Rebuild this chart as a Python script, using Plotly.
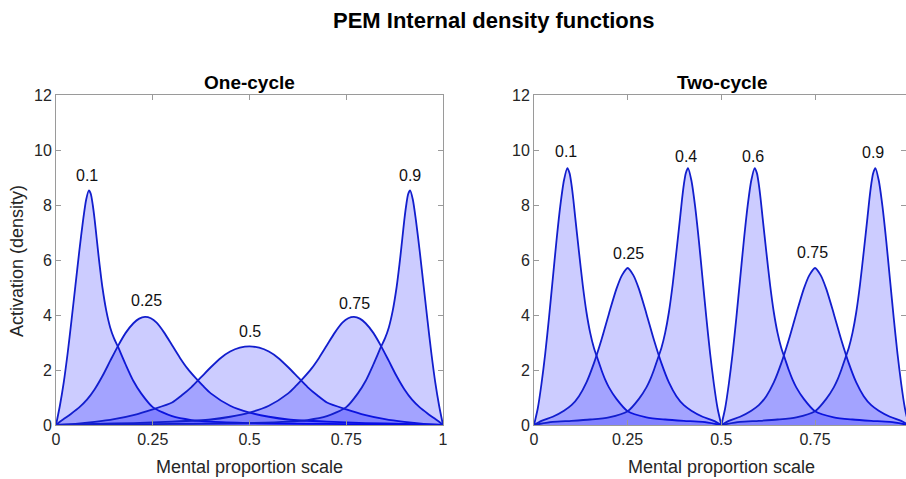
import plotly.graph_objects as go

# ---------------- data ----------------
# One-cycle panel
one_x_01 = [0, 0.01, 0.02, 0.03, 0.04, 0.05, 0.06, 0.07, 0.078, 0.085, 0.09, 0.095, 0.1, 0.105, 0.11, 0.115,
            0.12, 0.13, 0.14, 0.15, 0.16, 0.18, 0.2, 0.22, 0.25, 0.3, 0.35, 0.4, 0.5, 0.6, 0.7, 0.8, 0.9, 1.0]
one_y_01 = [0, 0.7, 1.55, 2.6, 3.8, 5.05, 6.3, 7.45, 8.2, 8.53, 8.4, 8.0, 7.45, 6.8, 6.15, 5.55,
            5.0, 4.15, 3.55, 3.15, 2.85, 2.2, 1.6, 1.15, 0.65, 0.32, 0.18, 0.12, 0.07, 0.05, 0.04, 0.03, 0.02, 0]

one_x_25 = [0, 0.01, 0.02, 0.04, 0.06, 0.08, 0.1, 0.12, 0.14, 0.16, 0.18, 0.2, 0.215, 0.23, 0.245, 0.26,
            0.28, 0.3, 0.32, 0.34, 0.36, 0.38, 0.4, 0.45, 0.5, 0.55, 0.6, 0.7, 0.8, 0.9, 1.0]
one_y_25 = [0, 0.12, 0.22, 0.42, 0.64, 0.92, 1.3, 1.78, 2.33, 2.87, 3.35, 3.7, 3.87, 3.93, 3.88, 3.72,
            3.35, 2.9, 2.45, 2.05, 1.72, 1.42, 1.15, 0.7, 0.45, 0.3, 0.2, 0.12, 0.07, 0.04, 0]

one_x_50 = [0, 0.05, 0.1, 0.15, 0.2, 0.25, 0.3, 0.325, 0.35, 0.375, 0.4, 0.425, 0.45, 0.475, 0.5,
            0.525, 0.55, 0.575, 0.6, 0.625, 0.65, 0.675, 0.7, 0.75, 0.8, 0.85, 0.9, 0.95, 1.0]
one_y_50 = [0, 0.04, 0.11, 0.21, 0.36, 0.57, 0.82, 1.08, 1.38, 1.74, 2.1, 2.43, 2.67, 2.81, 2.86,
            2.81, 2.67, 2.43, 2.1, 1.74, 1.38, 1.08, 0.82, 0.57, 0.36, 0.21, 0.11, 0.04, 0]

one_x_75 = [0, 0.1, 0.2, 0.3, 0.4, 0.45, 0.5, 0.55, 0.6, 0.62, 0.64, 0.66, 0.68, 0.7, 0.72, 0.74,
            0.755, 0.77, 0.785, 0.8, 0.82, 0.84, 0.86, 0.88, 0.9, 0.92, 0.94, 0.96, 0.98, 0.99, 1.0]
one_y_75 = [0, 0.04, 0.07, 0.12, 0.2, 0.3, 0.45, 0.7, 1.15, 1.42, 1.72, 2.05, 2.45, 2.9, 3.35, 3.72,
            3.88, 3.93, 3.87, 3.7, 3.35, 2.87, 2.33, 1.78, 1.3, 0.92, 0.64, 0.42, 0.22, 0.12, 0]

one_x_90 = [0, 0.1, 0.2, 0.3, 0.4, 0.5, 0.6, 0.65, 0.7, 0.75, 0.78, 0.8, 0.82, 0.84, 0.85, 0.86, 0.87,
            0.88, 0.885, 0.89, 0.895, 0.9, 0.905, 0.91, 0.915, 0.922, 0.93, 0.94, 0.95, 0.96, 0.97,
            0.98, 0.99, 1.0]
one_y_90 = [0, 0.02, 0.03, 0.04, 0.05, 0.07, 0.12, 0.18, 0.32, 0.65, 1.15, 1.6, 2.2, 2.85, 3.15, 3.55,
            4.15, 5.0, 5.55, 6.15, 6.8, 7.45, 8.0, 8.4, 8.53, 8.2, 7.45, 6.3, 5.05, 3.8, 2.6, 1.55, 0.7, 0]

one_labels = ["0.1", "0.25", "0.5", "0.75", "0.9"]
one_label_x = [0.081, 0.234, 0.5, 0.772, 0.914]
one_label_y = [9.09, 4.53, 3.4, 4.42, 9.06]

# Two-cycle panel
two_x_10 = [0, 0.01, 0.02, 0.03, 0.04, 0.05, 0.06, 0.07, 0.08, 0.089, 0.095, 0.1, 0.105, 0.11, 0.12,
            0.13, 0.14, 0.15, 0.16, 0.17, 0.18, 0.19, 0.2, 0.22, 0.25, 0.3, 0.35, 0.4, 0.45, 0.5]
two_y_10 = [0, 0.6, 1.5, 2.6, 3.9, 5.3, 6.7, 7.95, 8.9, 9.34, 9.15, 8.75, 8.2, 7.55, 6.3,
            5.1, 4.1, 3.35, 2.8, 2.4, 2.0, 1.65, 1.37, 0.95, 0.5, 0.28, 0.2, 0.15, 0.11, 0]

two_x_25 = [0, 0.02, 0.05, 0.08, 0.1, 0.12, 0.14, 0.16, 0.18, 0.2, 0.22, 0.235, 0.25, 0.265, 0.28,
            0.3, 0.32, 0.34, 0.36, 0.38, 0.4, 0.42, 0.45, 0.48, 0.5]
two_y_25 = [0, 0.15, 0.3, 0.52, 0.72, 1.05, 1.55, 2.25, 3.1, 4.05, 4.95, 5.45, 5.71, 5.45, 4.95,
            4.05, 3.1, 2.25, 1.55, 1.05, 0.72, 0.52, 0.3, 0.15, 0]

two_x_40 = [0, 0.05, 0.1, 0.15, 0.2, 0.25, 0.28, 0.3, 0.31, 0.32, 0.33, 0.34, 0.35, 0.36, 0.37, 0.38,
            0.39, 0.395, 0.4, 0.405, 0.411, 0.42, 0.43, 0.44, 0.45, 0.46, 0.47, 0.48, 0.49, 0.5]
two_y_40 = [0, 0.11, 0.15, 0.2, 0.28, 0.5, 0.95, 1.37, 1.65, 2.0, 2.4, 2.8, 3.35, 4.1, 5.1, 6.3,
            7.55, 8.2, 8.75, 9.15, 9.34, 8.9, 7.95, 6.7, 5.3, 3.9, 2.6, 1.5, 0.6, 0]

two_x_60 = [0.5, 0.51, 0.52, 0.53, 0.54, 0.55, 0.56, 0.57, 0.58, 0.589, 0.595, 0.6, 0.605, 0.61, 0.62,
            0.63, 0.64, 0.65, 0.66, 0.67, 0.68, 0.69, 0.7, 0.72, 0.75, 0.8, 0.85, 0.9, 0.95, 1.0]
two_y_60 = [0, 0.6, 1.5, 2.6, 3.9, 5.3, 6.7, 7.95, 8.9, 9.34, 9.15, 8.75, 8.2, 7.55, 6.3,
            5.1, 4.1, 3.35, 2.8, 2.4, 2.0, 1.65, 1.37, 0.95, 0.5, 0.28, 0.2, 0.15, 0.11, 0]

two_x_75 = [0.5, 0.52, 0.55, 0.58, 0.6, 0.62, 0.64, 0.66, 0.68, 0.7, 0.72, 0.735, 0.75, 0.765, 0.78,
            0.8, 0.82, 0.84, 0.86, 0.88, 0.9, 0.92, 0.95, 0.98, 1.0]
two_y_75 = [0, 0.15, 0.3, 0.52, 0.72, 1.05, 1.55, 2.25, 3.1, 4.05, 4.95, 5.45, 5.71, 5.45, 4.95,
            4.05, 3.1, 2.25, 1.55, 1.05, 0.72, 0.52, 0.3, 0.15, 0]

two_x_90 = [0.5, 0.55, 0.6, 0.65, 0.7, 0.75, 0.78, 0.8, 0.81, 0.82, 0.83, 0.84, 0.85, 0.86, 0.87, 0.88,
            0.89, 0.895, 0.9, 0.905, 0.911, 0.92, 0.93, 0.94, 0.95, 0.96, 0.97, 0.98, 0.99, 1.0]
two_y_90 = [0, 0.11, 0.15, 0.2, 0.28, 0.5, 0.95, 1.37, 1.65, 2.0, 2.4, 2.8, 3.35, 4.1, 5.1, 6.3,
            7.55, 8.2, 8.75, 9.15, 9.34, 8.9, 7.95, 6.7, 5.3, 3.9, 2.6, 1.5, 0.6, 0]

two_labels = ["0.1", "0.25", "0.4", "0.6", "0.75", "0.9"]
two_label_x = [0.085, 0.2535, 0.4056, 0.5836, 0.7437, 0.9038]
two_label_y = [9.93, 6.22, 9.76, 9.76, 6.28, 9.9]

x_tick_vals = [0, 0.25, 0.5, 0.75, 1]
x_tick_text = ["0", "0.25", "0.5", "0.75", "1"]
y_tick_vals = [0, 2, 4, 6, 8, 10, 12]

# ---------------- styling ----------------
W, H = 906, 479
LINE = "rgb(18,30,205)"
FILL = "rgba(0,0,255,0.2)"
FONT = "Liberation Sans, Arial, Helvetica, sans-serif"
TXT = "#262626"
AX = "#9a9a9a"

fig = go.Figure()

one_curves = [(one_x_01, one_y_01), (one_x_25, one_y_25), (one_x_50, one_y_50),
              (one_x_75, one_y_75), (one_x_90, one_y_90)]
two_curves = [(two_x_10, two_y_10), (two_x_25, two_y_25), (two_x_40, two_y_40),
              (two_x_60, two_y_60), (two_x_75, two_y_75), (two_x_90, two_y_90)]

for xs, ys in one_curves:
    fig.add_trace(go.Scatter(x=xs, y=ys, mode="lines", fill="tozeroy", fillcolor=FILL,
                             line=dict(color=LINE, width=1.8, shape="spline", smoothing=0.7),
                             xaxis="x", yaxis="y", showlegend=False, hoverinfo="skip"))
for xs, ys in two_curves:
    fig.add_trace(go.Scatter(x=xs, y=ys, mode="lines", fill="tozeroy", fillcolor=FILL,
                             line=dict(color=LINE, width=1.8, shape="spline", smoothing=0.7),
                             xaxis="x2", yaxis="y2", showlegend=False, hoverinfo="skip"))

ann = []
for t, x, y in zip(one_labels, one_label_x, one_label_y):
    ann.append(dict(text=t, x=x, y=y, xref="x", yref="y", showarrow=False,
                    xanchor="center", yanchor="middle",
                    font=dict(family=FONT, size=16, color="#111111")))
for t, x, y in zip(two_labels, two_label_x, two_label_y):
    ann.append(dict(text=t, x=x, y=y, xref="x2", yref="y2", showarrow=False,
                    xanchor="center", yanchor="middle",
                    font=dict(family=FONT, size=16, color="#111111")))

def paper_x(px):
    return px / W

def paper_y(py):
    return 1 - py / H

def ptext(text, px, py, size, color, angle=0):
    return dict(text=text, x=paper_x(px), y=paper_y(py), xref="paper", yref="paper",
                xanchor="center", yanchor="middle", showarrow=False, textangle=angle,
                font=dict(family=FONT, size=size, color=color))

ann += [
    ptext("<b>PEM Internal density functions</b>", 493, 21, 22, "#000000"),
    ptext("<b>One-cycle</b>", 249.5, 83, 19, "#000000"),
    ptext("<b>Two-cycle</b>", 721.5, 83, 19, "#000000"),
    ptext("Mental proportion scale", 249.5, 466.5, 18, TXT),
    ptext("Mental proportion scale", 721.5, 466.5, 18, TXT),
    ptext("Activation (density)", 17, 261, 18, TXT, -90),
]

common_x = dict(tickvals=x_tick_vals, ticktext=x_tick_text, ticks="inside", ticklen=5,
                tickcolor=AX, showline=True, linecolor=AX, linewidth=1, mirror="ticks",
                showgrid=False, zeroline=False, automargin=False,
                tickfont=dict(family=FONT, size=16, color=TXT))
common_y = dict(range=[0, 12], tickvals=y_tick_vals, ticks="inside", ticklen=5,
                tickcolor=AX, showline=True, linecolor=AX, linewidth=1, mirror="ticks",
                showgrid=False, zeroline=False, automargin=False,
                tickfont=dict(family=FONT, size=16, color=TXT))

ydom = [54 / H, 384 / H]
fig.update_layout(
    width=W, height=H, autosize=False,
    margin=dict(l=0, r=0, t=0, b=0, pad=0, autoexpand=False),
    paper_bgcolor="white", plot_bgcolor="white", showlegend=False,
    xaxis=dict(domain=[56 / W, 443 / W], range=[0, 1], anchor="y", **common_x),
    yaxis=dict(domain=ydom, anchor="x", **common_y),
    xaxis2=dict(domain=[534 / W, 1.0], range=[0, 0.9928], anchor="y2", **common_x),
    yaxis2=dict(domain=ydom, anchor="x2", **common_y),
    annotations=ann,
)

fig.write_html("out.html")
